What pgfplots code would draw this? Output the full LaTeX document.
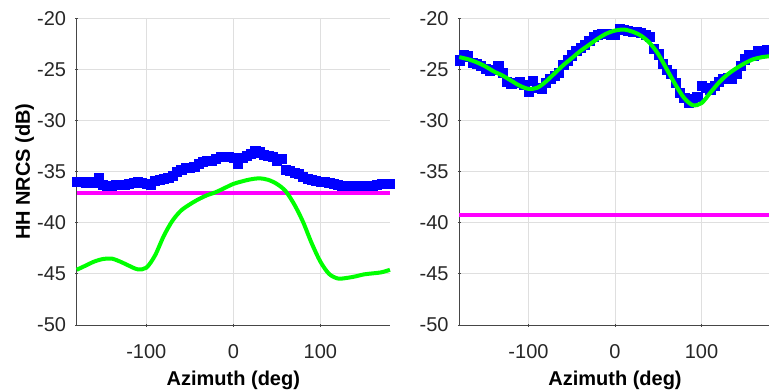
\documentclass[border=0pt]{standalone}
\usepackage{pgfplots}
\pgfplotsset{compat=1.18}
\usepackage{fontspec}
\setmainfont{Liberation Sans}
\definecolor{gridc}{RGB}{223,223,223}
\definecolor{axc}{RGB}{38,38,38}
\definecolor{axl}{RGB}{70,70,70}
\definecolor{mblue}{RGB}{0,0,255}
\definecolor{mmag}{RGB}{255,0,255}
\definecolor{mgreen}{RGB}{0,255,0}

\pgfplotsset{
 myax/.style={
  scale only axis, height=306.7pt,
  xmin=-180,xmax=180,ymin=-50,ymax=-20,
  xtick={-100,0,100}, ytick={-50,-45,-40,-35,-30,-25,-20},
  axis x line*=bottom, axis y line*=left,
  axis line style={draw=axl, line width=0.9pt, -},
  grid=major, major grid style={draw=gridc, line width=0.9pt},
  tick style={draw=axl, line width=0.9pt}, major tick length=3pt,
  tick align=center,
  /pgf/number format/assume math mode=true,
  tick label style={font=\fontsize{20}{24}\selectfont, text=axc, inner sep=0pt},
  xticklabel style={anchor=base, yshift=-32pt},
  yticklabel style={anchor=east, xshift=-9pt},
  xlabel={Azimuth (deg)},
  xlabel style={font=\fontsize{20}{24}\selectfont\bfseries, text=black, at={(rel axis cs:0.5,0)}, anchor=base, yshift=-60pt, inner sep=0pt},
  clip=false, clip marker paths=true,
 },
 bluemk/.style={only marks, mark=square*, mark size=4.6pt, mark options={draw=mblue, fill=mblue, line width=0.3pt}},
 magl/.style={draw=mmag, line width=4pt, no marks},
 grnl/.style={draw=mgreen, line width=4pt, no marks, smooth},
}

\begin{document}
\begin{tikzpicture}
\begin{axis}[myax, width=313.3pt, at={(0pt,0pt)}, anchor=south west]
\addplot[bluemk] coordinates {
(-180,-36.0) (-175,-36.0) (-170,-36.1) (-165,-36.0) (-160,-36.1) (-155,-35.6) (-150,-36.3) (-145,-36.4) (-140,-36.4) (-135,-36.3) (-130,-36.3) (-125,-36.3) (-120,-36.2) (-115,-36.1) (-110,-36.0) (-105,-36.1) (-100,-36.2) (-95,-36.3) (-90,-35.9) (-85,-35.8) (-80,-35.7) (-75,-35.6) (-70,-35.4) (-65,-35.0) (-60,-34.8) (-55,-34.6) (-50,-34.6) (-45,-34.5) (-40,-34.2) (-35,-34.0) (-30,-33.9) (-25,-33.9) (-20,-33.7) (-15,-33.5) (-10,-33.5) (-5,-33.5) (0,-33.6) (5,-34.2) (10,-33.6) (15,-33.4) (20,-33.2) (25,-33.0) (30,-33.1) (35,-33.3) (40,-33.4) (45,-33.5) (50,-33.9) (55,-33.7) (60,-34.8) (65,-34.9) (70,-35.1) (75,-35.2) (80,-35.5) (85,-35.7) (90,-35.8) (95,-35.9) (100,-36.0) (105,-36.0) (110,-36.1) (115,-36.2) (120,-36.3) (125,-36.4) (130,-36.4) (135,-36.4) (140,-36.5) (145,-36.4) (150,-36.4) (155,-36.4) (160,-36.4) (165,-36.3) (170,-36.2) (175,-36.2) (180,-36.2)
};
\addplot[magl] coordinates {(-180,-37.1) (180,-37.1)};
\addplot[grnl] coordinates {
(-180,-44.6) (-170,-44.2) (-160,-43.8) (-150,-43.55) (-140,-43.5) (-130,-43.8) (-120,-44.2) (-110,-44.55) (-100,-44.4) (-90,-43.2) (-80,-41.3) (-70,-39.8) (-60,-38.8) (-50,-38.2) (-40,-37.7) (-30,-37.3) (-20,-37.0) (-10,-36.6) (0,-36.2) (10,-35.95) (20,-35.75) (30,-35.65) (40,-35.8) (50,-36.2) (60,-36.9) (70,-38.2) (80,-39.9) (90,-42.0) (100,-43.8) (110,-45.0) (120,-45.45) (130,-45.4) (140,-45.25) (150,-45.05) (160,-44.95) (170,-44.85) (180,-44.6)
};
\end{axis}
\node[rotate=90, anchor=base, font=\fontsize{20}{24}\selectfont\bfseries, text=black, inner sep=0pt] at (-46.7pt,153.35pt) {HH NRCS (dB)};
\begin{axis}[myax, width=311.4pt, at={(382.6pt,0pt)}, anchor=south west]
\addplot[bluemk] coordinates {
(-180,-24.1) (-175,-23.6) (-170,-23.7) (-165,-24.3) (-160,-24.4) (-155,-24.6) (-150,-24.9) (-145,-25.1) (-140,-25.0) (-135,-24.6) (-130,-25.3) (-125,-26.2) (-120,-26.4) (-115,-26.3) (-110,-26.2) (-105,-26.5) (-100,-27.2) (-95,-26.1) (-90,-26.8) (-85,-26.9) (-80,-26.3) (-75,-25.9) (-70,-25.6) (-65,-25.3) (-60,-24.5) (-55,-24.1) (-50,-23.6) (-45,-23.2) (-40,-22.9) (-35,-22.6) (-30,-22.2) (-25,-21.8) (-20,-21.6) (-15,-21.5) (-10,-21.5) (-5,-21.6) (0,-21.6) (5,-21.0) (10,-21.1) (15,-21.2) (20,-21.3) (25,-21.3) (30,-21.4) (35,-21.6) (40,-21.8) (45,-23.0) (50,-23.5) (55,-24.4) (60,-25.0) (65,-25.4) (70,-26.3) (75,-27.3) (80,-27.8) (85,-28.2) (90,-27.9) (95,-27.7) (100,-26.6) (105,-26.8) (110,-27.0) (115,-26.6) (120,-26.2) (125,-25.9) (130,-25.8) (135,-25.9) (140,-25.4) (145,-24.6) (150,-24.0) (155,-23.6) (160,-23.6) (165,-23.2) (170,-23.2) (175,-23.1) (180,-23.3)
};
\addplot[magl] coordinates {(-180,-39.2) (180,-39.2)};
\addplot[grnl] coordinates {
(-180,-23.8) (-170,-24.0) (-160,-24.3) (-150,-24.7) (-140,-25.2) (-130,-25.6) (-120,-26.1) (-110,-26.6) (-100,-26.9) (-90,-26.8) (-80,-26.2) (-70,-25.4) (-60,-24.6) (-50,-23.9) (-40,-23.2) (-30,-22.6) (-20,-22.0) (-10,-21.5) (0,-21.2) (10,-21.1) (20,-21.3) (30,-21.7) (40,-22.4) (50,-23.5) (60,-25.0) (70,-26.5) (80,-27.8) (90,-28.5) (100,-28.3) (110,-27.3) (120,-26.3) (130,-25.5) (140,-24.9) (150,-24.4) (160,-24.0) (170,-23.8) (180,-23.7)
};
\end{axis}
\pgfresetboundingbox
\path[use as bounding box] (-76.7pt,-64pt) rectangle (692.3pt,325pt);
\end{tikzpicture}
\end{document}
